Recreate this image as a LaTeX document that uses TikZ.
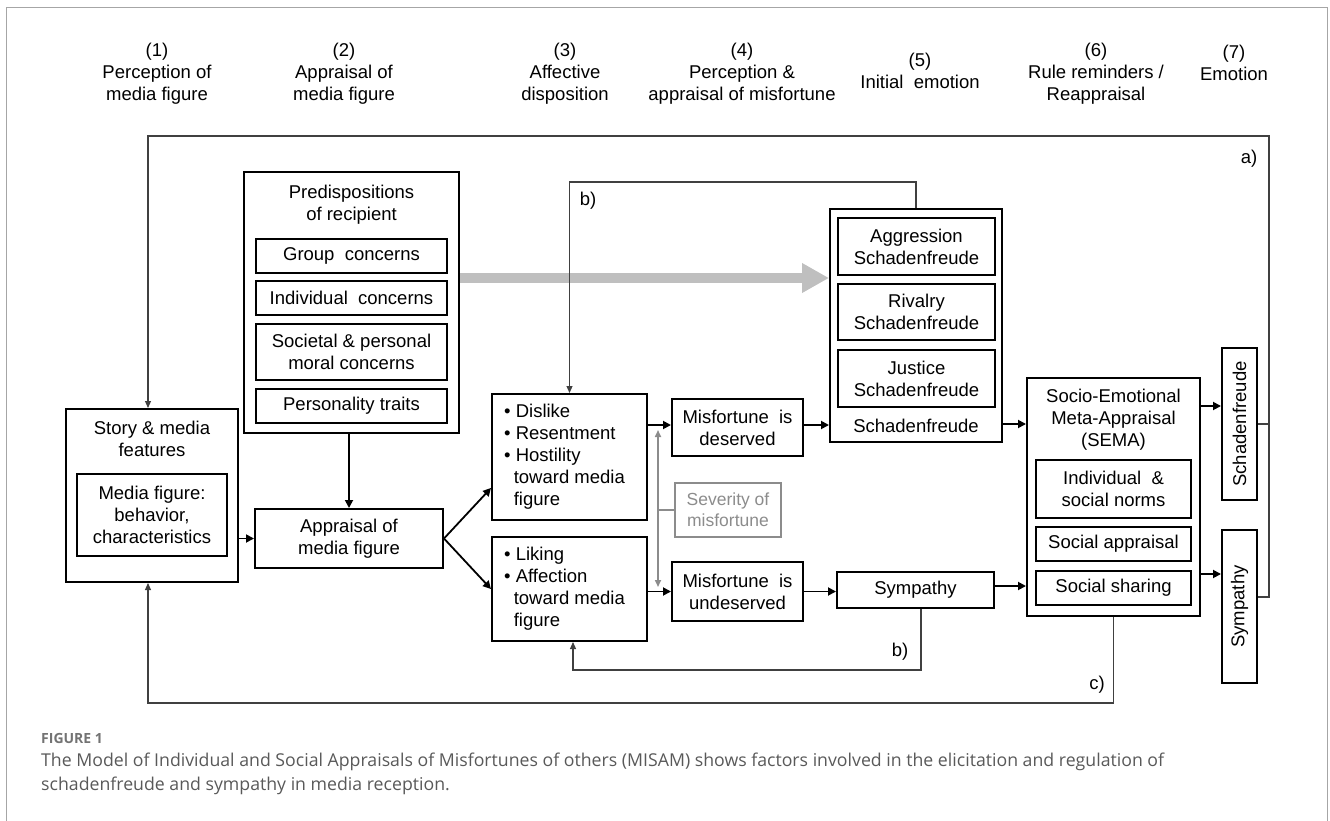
\documentclass[tikz,border=0pt]{standalone}
\usepackage{fontspec}
\setmainfont{Liberation Sans}
\newfontfamily\capfont{Open Sans}
\usetikzlibrary{arrows.meta,calc}
\begin{document}
\begin{tikzpicture}[x=1pt,y=-1pt, font=\fontsize{18.5}{22}\selectfont,
  box/.style={draw, line width=2pt, inner sep=0pt},
  ibox/.style={draw, line width=1.4pt, inner sep=0pt, align=center},
  txt/.style={inner sep=0pt, align=center},
  conn/.style={line width=1.8pt, -{Triangle[length=8pt,width=8pt]}},
  lp/.style={line width=1.1pt, draw=black!75, -{Triangle[length=7pt,width=6pt]}},
  ln/.style={line width=1.1pt, draw=black!75},
  gr/.style={draw=black!45, text=black!45},
  frame/.style={draw=black!35, line width=1.2pt},
]
\useasboundingbox (0,0) rectangle (1330,821);
% outer frame
\coordinate (f1) at (6.5,821);
\coordinate (f2) at (6.5,7.5);
\coordinate (f3) at (1327.5,7.5);
\coordinate (f4) at (1327.5,821);
\draw[frame] (f1) -- (f2) -- (f3) -- (f4);

% headings
\node[txt] (h1) at (157,74) {(1)\\Perception of\\media figure};
\node[txt] (h2) at (344,74) {(2)\\Appraisal of\\media figure};
\node[txt] (h3) at (565,74) {(3)\\Affective\\disposition};
\node[txt] (h4) at (742,74) {(4)\\Perception \&\\appraisal of misfortune};
\node[txt] (h5) at (920,71) {(5)\\Initial\ \ emotion};
\node[txt] (h6) at (1096,74) {(6)\\Rule reminders /\\Reappraisal};
\node[txt] (h7) at (1234,63) {(7)\\Emotion};

% story
\node[box, minimum width=172pt, minimum height=173pt] (story) at (152,495.5) {};
\node[txt] (storytxt) at (152,438.5) {Story \& media\\features};
\node[ibox, minimum width=150pt, minimum height=82pt] (media) at (152,515) {Media figure:\\behavior,\\characteristics};

% predispositions
\node[box, minimum width=215pt, minimum height=261pt] (pred) at (351.5,302.5) {};
\node[txt] (predtxt) at (351.5,204.5) {Predispositions\\of recipient};
\node[ibox, minimum width=191pt, minimum height=34pt] (grp) at (351.5,256) {Group\ \ concerns};
\node[ibox, minimum width=191pt, minimum height=34pt] (ind) at (351.5,298) {Individual\ \ concerns};
\node[ibox, minimum width=191pt, minimum height=56pt] (soc) at (351.5,352) {Societal \& personal\\moral concerns};
\node[ibox, minimum width=191pt, minimum height=34pt] (pers) at (351.5,406) {Personality traits};

% appraisal
\node[box, minimum width=188pt, minimum height=59pt, align=center] (appr) at (349,538.5) {Appraisal of\\media figure};

% dispositions
\node[box, minimum width=155pt, minimum height=126pt] (dislike) at (569.5,457) {};
\node[txt, align=left, anchor=west] (disliketxt) at ($(dislike.west)+(13,0)$) {\textbullet\ Dislike\\\textbullet\ Resentment\\\textbullet\ Hostility\\\hphantom{\textbullet\,}toward media\\\hphantom{\textbullet\,}figure};
\node[box, minimum width=155pt, minimum height=104pt] (liking) at (569.5,589) {};
\node[txt, align=left, anchor=west] (likingtxt) at ($(liking.west)+(13,0)$) {\textbullet\ Liking\\\textbullet\ Affection\\\hphantom{\textbullet\,}toward media\\\hphantom{\textbullet\,}figure};

% misfortune
\node[box, minimum width=131pt, minimum height=57pt, align=center] (des) at (737.5,427.5) {Misfortune\ \ is\\deserved};
\node[box, minimum width=131pt, minimum height=59pt, align=center] (undes) at (737.5,591.5) {Misfortune\ \ is\\undeserved};
\node[ibox, gr, minimum width=106pt, minimum height=54pt, font=\fontsize{17.5}{21}\selectfont] (sev) at (728,510) {Severity of\\misfortune};

% initial emotions
\node[box, minimum width=172pt, minimum height=233pt] (sfg) at (916,325.5) {};
\node[ibox, minimum width=157pt, minimum height=57pt] (aggr) at (916.5,246.5) {Aggression\\Schadenfreude};
\node[ibox, minimum width=157pt, minimum height=56pt] (riv) at (916.5,312) {Rivalry\\Schadenfreude};
\node[ibox, minimum width=157pt, minimum height=57pt] (just) at (916.5,378.5) {Justice\\Schadenfreude};
\node[txt] (sftxt) at (916,426) {Schadenfreude};
\node[box, minimum width=157pt, minimum height=36pt] (symp) at (915.5,590) {Sympathy};

% SEMA
\node[box, minimum width=173pt, minimum height=238pt] (sema) at (1113.5,497) {};
\node[txt] (sematxt) at (1113.5,419.5) {Socio-Emotional\\Meta-Appraisal\\(SEMA)};
\node[ibox, minimum width=155pt, minimum height=58pt] (norms) at (1113.5,489) {Individual\ \ \&\\social norms};
\node[ibox, minimum width=155pt, minimum height=34pt] (sapp) at (1113.5,544) {Social appraisal};
\node[ibox, minimum width=155pt, minimum height=34pt] (sshare) at (1113.5,588) {Social sharing};

% final emotions
\node[box, minimum width=35pt, minimum height=152pt] (sfv) at (1239.5,424) {};
\node[txt, rotate=90] (sfvtxt) at (sfv.center) {Schadenfreude};
\node[box, minimum width=35pt, minimum height=153pt] (symv) at (1239.5,606.5) {};
\node[txt, rotate=90] (symvtxt) at (symv.center) {Sympathy};

% main connectors
\draw[conn] (appr.west -| story.east) -- (appr.west);
\draw[conn] (appr.north |- pred.south) -- (appr.north);
\draw[conn] (appr.east) -- ($(dislike.south west)+(0,-33)$);
\draw[conn] (appr.east) -- (liking.west);
\draw[conn] ($(dislike.east)+(0,-32)$) -- ($(des.west)+(0,-2.5)$);
\draw[conn] ($(des.east)+(0,-2.5)$) -- ($(des.east -| sfg.west)+(0,-2.5)$);
\draw[conn] (undes.west -| liking.east) -- (undes.west);
\draw[conn] (undes.east) -- (undes.east -| symp.west);
\draw[conn] ($(symp.east)+(0,-4)$) -- ($(symp.east -| sema.west)+(0,-4)$);
\draw[conn] (sfv.center -| sfg.east) -- (sfv.center -| sema.west);
\coordinate (sfin) at ($(sfv.west)+(0,-18)$);
\draw[conn] (sfin -| sema.east) -- (sfin);
\coordinate (syin) at ($(symv.west)+(0,-32.5)$);
\draw[conn] (syin -| sema.east) -- (syin);

% gray thick arrow
\coordinate (gy) at (0,278);
\draw[draw=black!25, line width=9.5pt, -{Triangle[length=27pt,width=28pt]}] (gy -| pred.east) -- (gy -| sfg.west);

% severity double arrow
\coordinate (g1) at (658,430);
\coordinate (g2) at (658,587);
\draw[black!45, line width=1.6pt, {Triangle[length=7pt,width=6pt]}-{Triangle[length=7pt,width=6pt]}] (g1) -- (g2);
\draw[black!45, line width=1.6pt] (g1 |- sev.west) -- (sev.west);

% loop a)
\coordinate (ar) at (1269,136);
\coordinate (al) at (148,136);
\draw[lp] ($(symv.east)+(0,-9.5)$) -| (ar) -- (al) -- (al |- story.north);
\draw[ln] (sfv.east) -- (sfv.east -| ar);
\node[txt] (la) at (1249,159) {a)};

% loop b) top
\coordinate (bt) at (569.5,182);
\draw[lp] (sfg.north) |- (bt) -- (bt |- dislike.north);
\node[txt] (lb1) at (588,201) {b)};

% loop b) bottom
\coordinate (bb) at (573,670);
\draw[lp] ($(symp.south)+(5.5,0)$) |- (bb) -- (bb |- liking.south);
\node[txt] (lb2) at (900,652) {b)};

% loop c)
\coordinate (cb) at (148,703);
\draw[lp] (sema.south) |- (cb) -- (cb |- story.south);
\node[txt] (lc) at (1097,685) {c)};

% caption
\node[anchor=west, inner sep=0pt, text=black!55, font={\capfont\fontsize{14}{16}\selectfont\bfseries}] (fig) at (41,738) {FIGURE 1};
\node[anchor=west, inner sep=0pt, text=black!65, font={\capfont\fontsize{17.7}{20}\selectfont}] (cap1) at (41,762) {The Model of Individual and Social Appraisals of Misfortunes of others (MISAM) shows factors involved in the elicitation and regulation of};
\node[anchor=west, inner sep=0pt, text=black!65, font={\capfont\fontsize{17.7}{20}\selectfont}] (cap2) at (41,785.5) {schadenfreude and sympathy in media reception.};
\end{tikzpicture}
\end{document}
